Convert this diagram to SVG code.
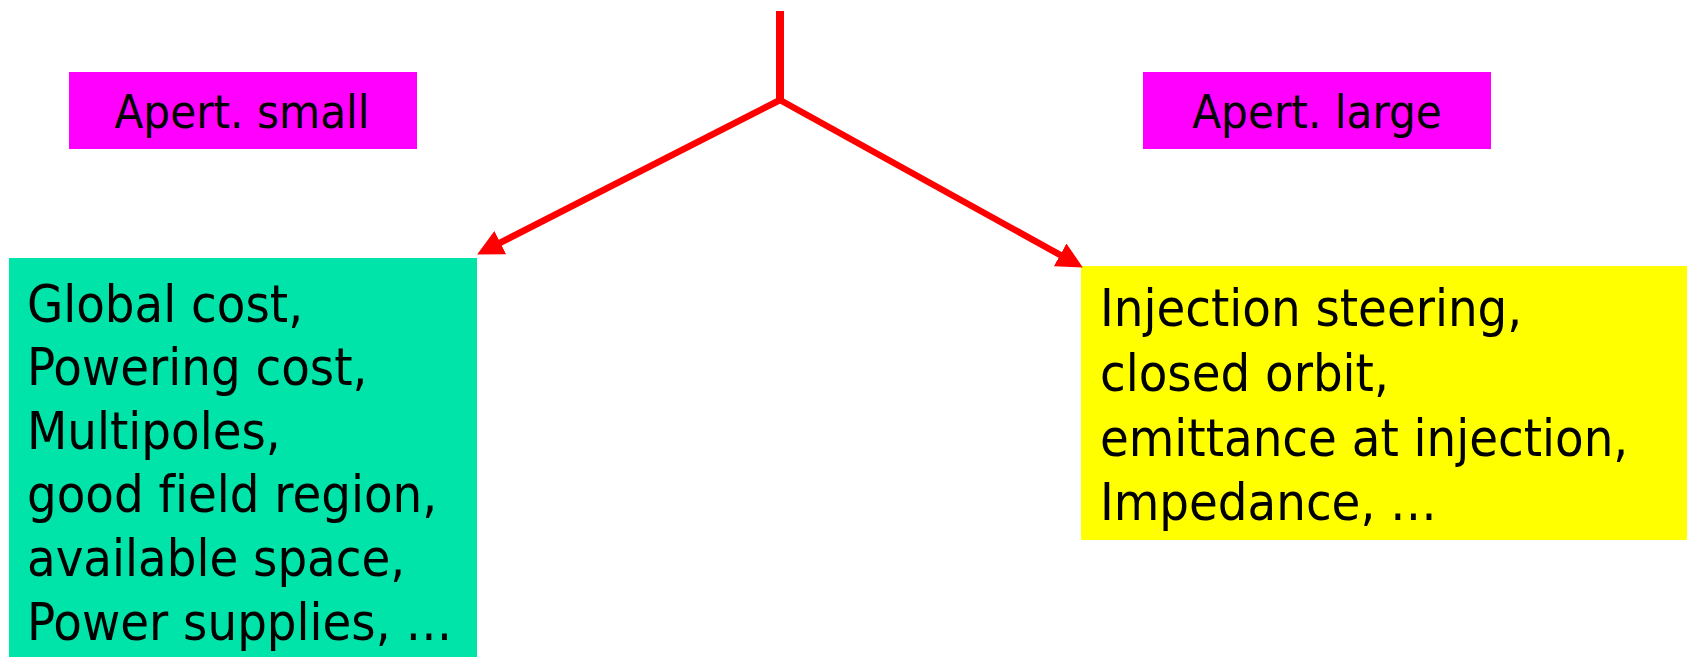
<svg xmlns="http://www.w3.org/2000/svg" width="1689" height="657" viewBox="0 0 1689 657">
<style>
.t{font-family:"DejaVu Sans Condensed","DejaVu Sans",Verdana,sans-serif;fill:#000;font-variant-ligatures:none;}
.big{font-size:52px;}
.lab{font-size:47px;text-anchor:middle;}
.conn{fill:none;stroke:#FF0000;stroke-width:6.5;}
</style>
<defs>
<marker id="ah" markerUnits="userSpaceOnUse" markerWidth="26" markerHeight="26" viewBox="0 0 24 24" refX="12" refY="12" orient="auto">
<path d="M0,0 L24,12 L0,24 z" fill="#FF0000"/>
</marker>
</defs>
<rect width="1689" height="657" fill="#FFFFFF"/>
<g id="apert-small">
<rect x="69" y="72" width="348" height="77" fill="#FF00FF"/>
<text class="t lab" x="242" y="128">Apert. small</text>
</g>
<g id="apert-large">
<rect x="1143" y="72" width="348" height="77" fill="#FF00FF"/>
<text class="t lab" x="1317" y="128">Apert. large</text>
</g>
<g id="small-consequences">
<rect x="9" y="258" width="468" height="399" fill="#00E3A9"/>
<text class="t big" x="27" y="321.5">Global cost,</text>
<text class="t big" x="27" y="385">Powering cost,</text>
<text class="t big" x="27" y="448.5">Multipoles,</text>
<text class="t big" x="27" y="512">good field region,</text>
<text class="t big" x="27" y="576">available space,</text>
<text class="t big" x="27" y="640">Power supplies, …</text>
</g>
<g id="large-consequences">
<rect x="1081" y="266" width="606" height="274" fill="#FFFF00"/>
<text class="t big" x="1100" y="326">Injection steering,</text>
<text class="t big" x="1100" y="391">closed orbit,</text>
<text class="t big" x="1100" y="456">emittance at injection,</text>
<text class="t big" x="1100" y="520">Impedance, …</text>
</g>
<g id="connectors">
<line x1="780" y1="11" x2="780" y2="101" stroke="#FF0000" stroke-width="8"/>
<path class="conn" d="M780,100 L488.7,248.6" marker-end="url(#ah)"/>
<path class="conn" d="M780,100 L1071.5,261.2" marker-end="url(#ah)"/>
</g>
</svg>
